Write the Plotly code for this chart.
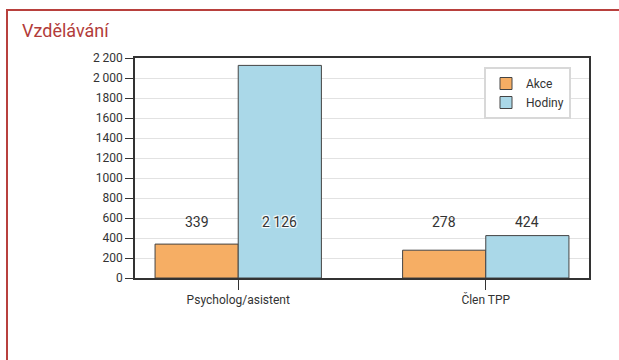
import plotly.graph_objects as go

categories = ["Psycholog/asistent", "Člen TPP"]
akce = [339, 278]
hodiny = [2126, 424]
series_names = ["Akce", "Hodiny"]
tick_vals = [0, 200, 400, 600, 800, 1000, 1200, 1400, 1600, 1800, 2000, 2200]
tick_text = ["0", "200", "400", "600", "800", "1000", "1200", "1400", "1600", "1800", "2 000", "2 200"]
label_akce = ["339", "278"]
label_hodiny = ["2 126", "424"]
title_text = "Vzdělávání"

W, H = 619, 360
ML, MR, MT, MB = 135, 30, 58, 82
pw, ph = W - ML - MR, H - MT - MB

def px(x):
    return (x - ML) / pw

def py(y):
    return 1 - (y - MT) / ph

FONT = "Roboto"
xs = list(range(len(categories)))
bw = 0.336
colors = ["#f6ae64", "#aad8e8"]

fig = go.Figure()
fig.add_bar(x=xs, y=akce, name=series_names[0], marker=dict(color=colors[0], line=dict(color="#444", width=1)), offset=-bw, width=bw)
fig.add_bar(x=xs, y=hodiny, name=series_names[1], marker=dict(color=colors[1], line=dict(color="#444", width=1)), offset=0, width=bw)

label_y = 560
ann = []
for i in xs:
    ann.append(dict(x=i - bw / 2, y=label_y, xref="x", yref="y", text=label_akce[i], showarrow=False,
                    font=dict(family=FONT, size=14, color="#333")))
    ann.append(dict(x=i + bw / 2, y=label_y, xref="x", yref="y", text=label_hodiny[i], showarrow=False,
                    font=dict(family=FONT, size=14, color="#333", shadow="1px 1px 1px white, -1px -1px 1px white, 1px -1px 1px white, -1px 1px 1px white")))
ann.append(dict(x=px(20), y=py(30), xref="paper", yref="paper", text=title_text, showarrow=False,
                xanchor="left", yanchor="middle", font=dict(family=FONT, size=18, color="#b23c3a")))

shapes = [
    dict(type="line", xref="paper", yref="paper", x0=px(7), x1=px(7), y0=py(10), y1=py(400), line=dict(color="#b8403d", width=2)),
    dict(type="line", xref="paper", yref="paper", x0=px(6), x1=px(700), y0=py(10), y1=py(10), line=dict(color="#b8403d", width=2)),
]

fig.update_layout(
    width=W, height=H,
    margin=dict(l=ML, r=MR, t=MT, b=MB),
    paper_bgcolor="white", plot_bgcolor="white",
    font=dict(family=FONT, size=12, color="#333"),
    barmode="overlay",
    showlegend=True,
    legend=dict(x=px(484), y=py(67), xanchor="left", yanchor="top", bgcolor="white",
                bordercolor="#d8d8d8", borderwidth=2, font=dict(family=FONT, size=12, color="#333"),
                itemwidth=30, tracegroupgap=2),
    annotations=ann,
    shapes=shapes,
)
fig.update_xaxes(range=[-0.417, 1.417], tickvals=xs, ticktext=categories, ticks="outside", ticklen=10,
                 tickcolor="#333", showline=True, linecolor="#333", linewidth=1.5, mirror=True,
                 showgrid=False, zeroline=False, tickfont=dict(size=12, color="#333"))
fig.update_yaxes(range=[0, 2200], tickvals=tick_vals, ticktext=tick_text, ticks="outside", ticklen=8,
                 tickcolor="#333", showline=True, linecolor="#333", linewidth=1.5, mirror=True,
                 showgrid=True, gridcolor="#e2e2e2", gridwidth=1, zeroline=False, tickfont=dict(size=12, color="#333"))

fig.write_html("out.html", config={"displayModeBar": False},
               post_script="document.body.style.margin='0';document.body.style.overflow='hidden';")
